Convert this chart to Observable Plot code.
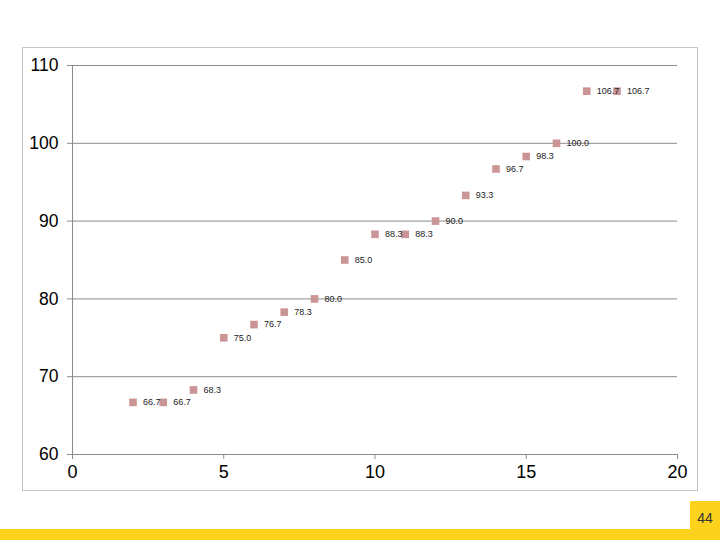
<!DOCTYPE html>
<html>
<head>
<meta charset="utf-8">
<script src="https://cdn.jsdelivr.net/npm/d3@7"></script>
<script src="https://cdn.jsdelivr.net/npm/@observablehq/plot@0.6"></script>
<style>
  html, body { margin: 0; padding: 0; background: #fff; }
  #wrap { position: relative; width: 720px; height: 540px; overflow: hidden; font-family: "Liberation Sans", Arial, sans-serif; }
  #frame { position: absolute; left: 22px; top: 47px; width: 676px; height: 444px; border: 1px solid #c4c4c4; box-sizing: border-box; }
  #chart { position: absolute; left: 0; top: 0; }
  #bar { position: absolute; left: 0; top: 529px; width: 720px; height: 11px; background: #fcd21c; }
  #page { position: absolute; left: 690px; top: 501px; width: 30px; height: 39px; background: #fcd21c; color: #333; font-size: 14px; text-align: center; line-height: 34px; }
</style>
</head>
<body>
<div id="wrap">
  <div id="frame"></div>
  <div id="chart"></div>
  <div id="bar"></div>
  <div id="page">44</div>
</div>
<script>
const xValues = [2, 3, 4, 5, 6, 7, 8, 9, 10, 11, 12, 13, 14, 15, 16, 17, 18];
const yValues = [66.7, 66.7, 68.3, 75.0, 76.7, 78.3, 80.0, 85.0, 88.3, 88.3, 90.0, 93.3, 96.7, 98.3, 100.0, 106.7, 106.7];
const xTicks = [0, 5, 10, 15, 20];
const yTicks = [60, 70, 80, 90, 100, 110];

const data = xValues.map((x, i) => ({x, y: yValues[i], label: d3.format(".1f")(yValues[i])}));

const chart = Plot.plot({
  width: 720,
  height: 540,
  marginLeft: 72,
  marginRight: 43,
  marginTop: 65,
  marginBottom: 86,
  style: {fontFamily: "'Liberation Sans', Arial, sans-serif", background: "transparent", color: "#000"},
  x: {domain: [0, 20]},
  y: {domain: [60, 110]},
  marks: [
    Plot.gridY(yTicks, {stroke: "#8a8a8a", strokeOpacity: 1, strokeWidth: 1}),
    Plot.ruleX([0], {stroke: "#8a8a8a", strokeWidth: 1}),
    Plot.axisX(xTicks, {tickSize: 5, tickPadding: 6, fontSize: 18, stroke: "#8a8a8a", fill: "#000", label: null}),
    Plot.axisY(yTicks, {tickSize: 5, tickPadding: 9, fontSize: 17.5, stroke: "#8a8a8a", fill: "#000", label: null}),
    Plot.dot(data, {x: "x", y: "y", symbol: "square", r: 4.3, fill: "#cc9595", stroke: null}),
    Plot.text(data, {x: "x", y: "y", text: "label", textAnchor: "start", dx: 10, fontSize: 9, fill: "#222"})
  ]
});
document.getElementById("chart").appendChild(chart);
</script>
</body>
</html>
